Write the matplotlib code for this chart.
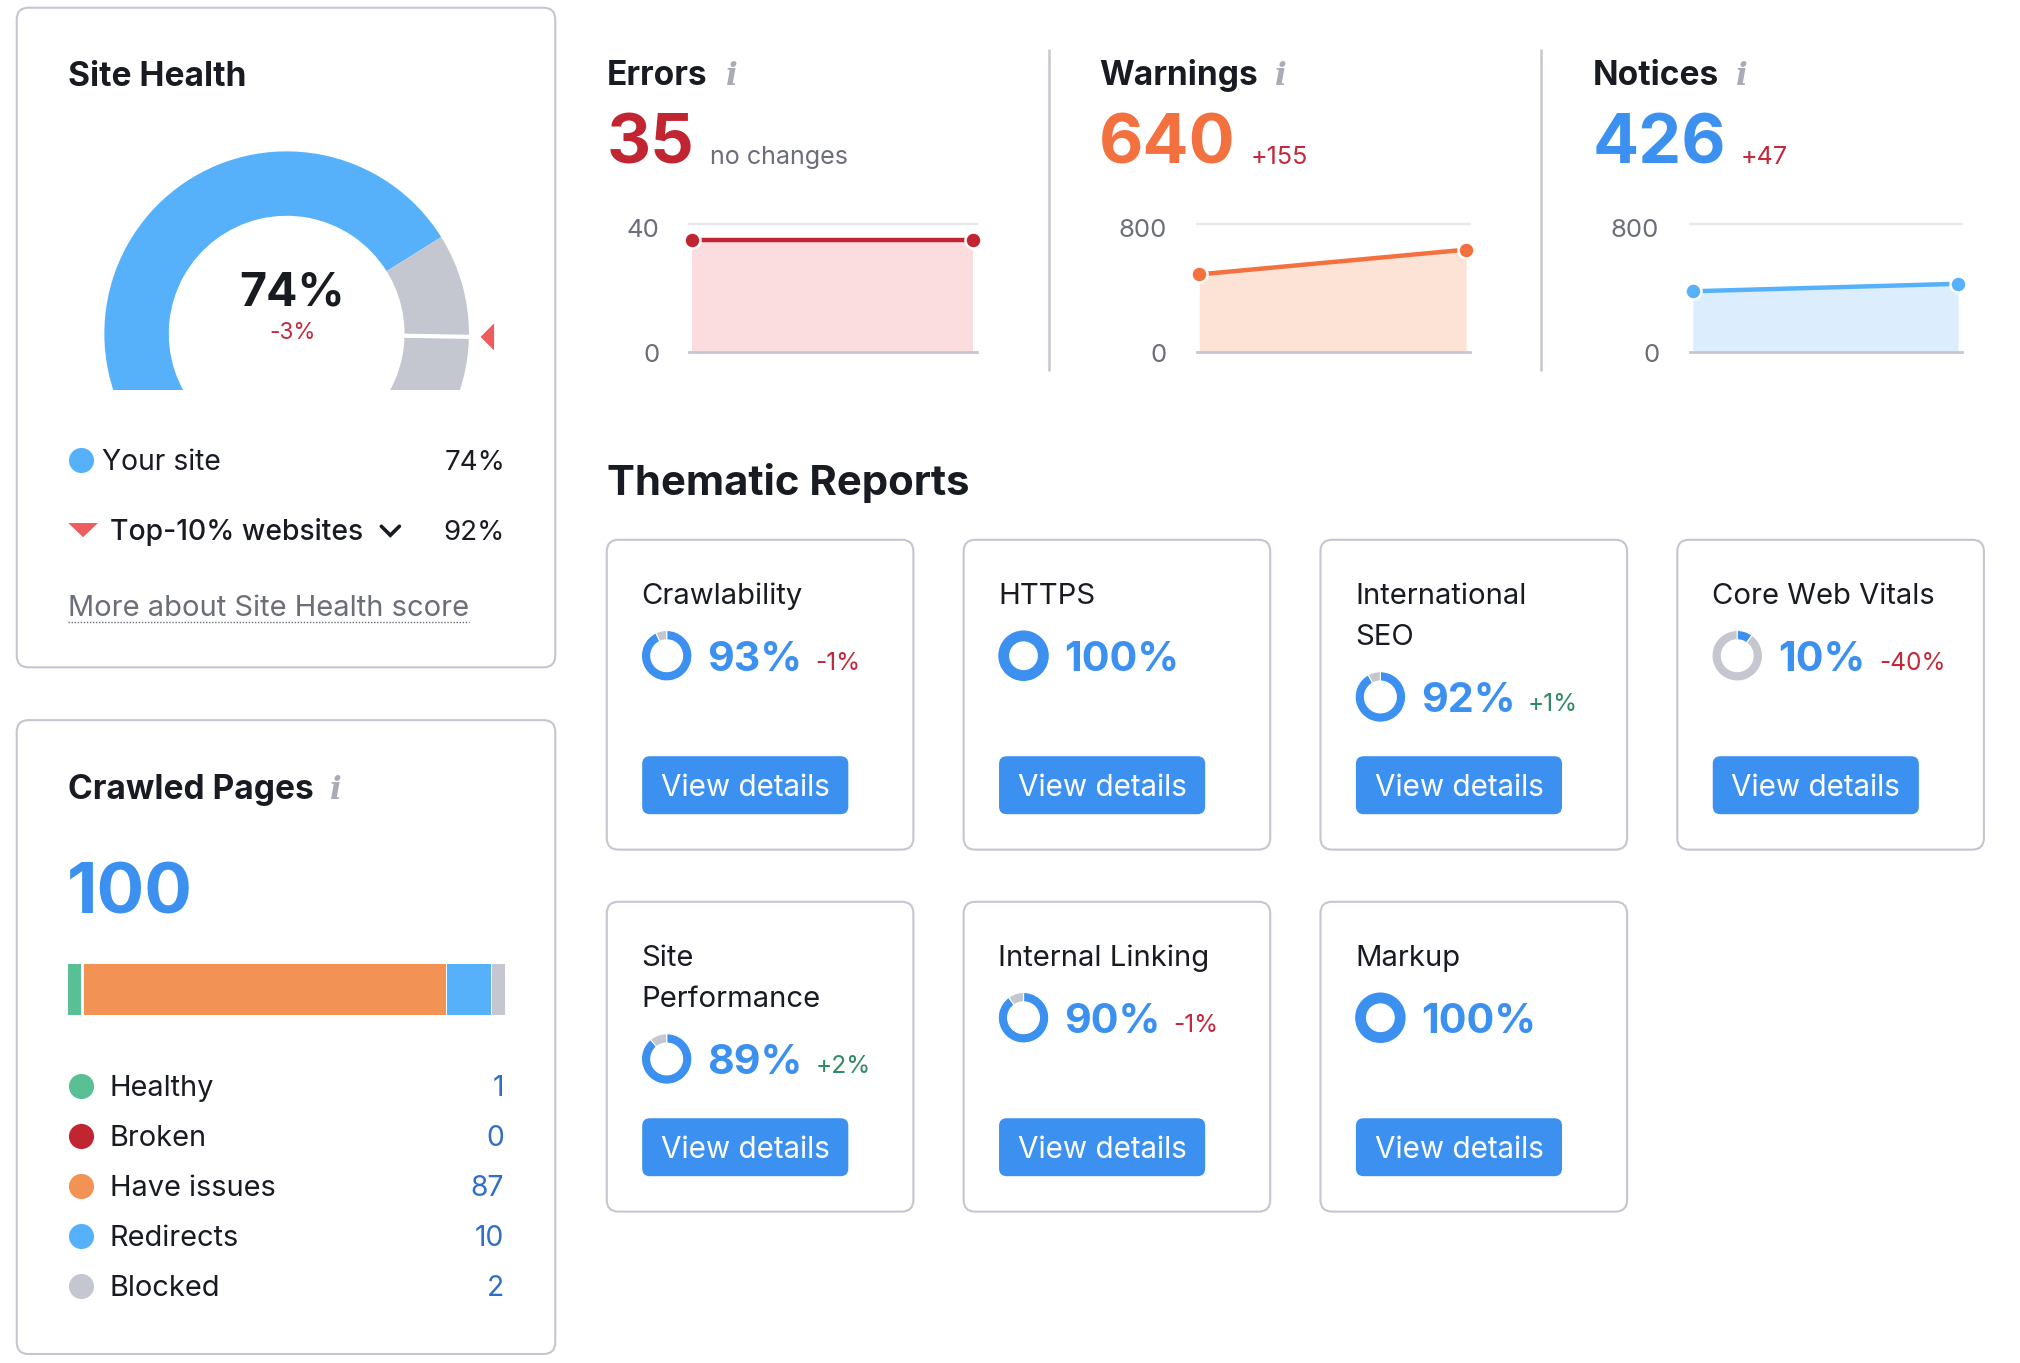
import numpy as np
import matplotlib
matplotlib.use('Agg')
import matplotlib.pyplot as plt
from matplotlib.patches import FancyBboxPatch, Wedge, Polygon
from matplotlib.transforms import ScaledTranslation

plt.rcParams['font.family'] = ['Inter', 'DejaVu Sans']

W, H = 2020, 1363
# layout below is written in 1568x1058 coords
DW, DH = 1568.0, 1058.0
PX = W / DW * 0.72  # one layout px in points at dpi 100

DARK = '#191B23'
GREY = '#6C6E79'
BORDER = '#C4C7CF'
RED = '#C4283A'
GREEN = '#2E8B63'
BLUE = '#3C91F0'
SKY = '#56B1FA'
ORANGE = '#F3703F'
INFO = '#A9ABB6'

fig = plt.figure(figsize=(W / 100, H / 100), dpi=100, facecolor='white')
bg = fig.add_axes([0, 0, 1, 1])
bg.set_xlim(0, DW)
bg.set_ylim(DH, 0)
bg.axis('off')


def sub_axes(x0, y0, x1, y1):
    ax = fig.add_axes([x0 / DW, 1 - y1 / DH, (x1 - x0) / DW, (y1 - y0) / DH])
    ax.patch.set_alpha(0)
    return ax


def txt(x, y, s, size, color=DARK, weight='normal', ha='left', **kw):
    return bg.text(x, y, s, fontsize=size * PX, color=color, fontweight=weight,
                   ha=ha, va='baseline', **kw)


def info(x, y):
    bg.text(x, y, 'i', fontsize=24 * PX, color=INFO, fontweight='bold', style='italic',
            family='DejaVu Serif', ha='center', va='baseline')


def card(x0, y0, x1, y1):
    bg.add_patch(FancyBboxPatch((x0 + 9, y0 + 9), x1 - x0 - 18, y1 - y0 - 18,
                                boxstyle='round,pad=9,rounding_size=9',
                                fc='white', ec=BORDER, lw=1.5))


# ---- Site Health card
card(13, 6, 431, 518)
txt(53, 67, 'Site Health', 26, weight='bold')

gauge = sub_axes(75, 110, 395, 303)
gauge.set_xlim(75 - 222.5, 395 - 222.5)
gauge.set_ylim(259 - 303, 259 - 110)
gauge.axis('off')
# arc edges in degrees
gauge_arcs = [(32, 222, SKY), (-1, 32, BORDER), (-40, -1, BORDER)]
for t0, t1, c in gauge_arcs:
    gauge.add_patch(Wedge((0, 0), 141.5, t0, t1, width=50, fc=c, ec='none'))
top10 = np.radians(-1)
gauge.plot([88 * np.cos(top10), 144 * np.cos(top10)], [88 * np.sin(top10), 144 * np.sin(top10)],
           color='white', lw=3, solid_capstyle='butt')
gauge.add_patch(Polygon([(150.5, -2.5), (161, -13), (161, 8)], closed=True, fc='#EE5C5F', ec='none', clip_on=False))

txt(226.5, 237, '74%', 36, weight='bold', ha='center')
txt(227, 263, '-3%', 17.5, color=RED, ha='center')

bg.plot([62.5], [357], 'o', ms=19.5 * PX, color=SKY, mec='none')
txt(79, 365, 'Your site', 22)
txt(392, 365, '74%', 21.5, ha='right')
bg.add_patch(Polygon([(53, 406), (76, 406), (64.5, 417)], closed=True, fc='#EE5C5F', ec='none'))
txt(85, 419, 'Top-10% websites', 22, weight='medium')
bg.plot([296, 303, 310], [408.5, 415.5, 408.5], color=DARK, lw=2.6, solid_capstyle='round', solid_joinstyle='miter')
txt(392, 419, '92%', 21.5, ha='right')
txt(53, 478, 'More about Site Health score', 22.6, color=GREY)
bg.plot([53, 364], [483, 483], color=GREY, lw=1, ls=(0, (1, 1.2)))

# ---- Crawled Pages card
card(13, 559, 431, 1051)
txt(53, 620, 'Crawled Pages', 26, weight='bold')
info(261, 620)
txt(52, 709, '100', 55, color=BLUE, weight='bold')

# segment widths in the strip are not proportional to the counts
strip = sub_axes(53, 748, 392, 788)
strip.broken_barh([(0, 10), (12, 281), (294, 34), (329, 10)], (0, 1),
                  facecolors=['#59BF95', '#F29255', SKY, BORDER])
strip.set_xlim(0, 339)
strip.set_ylim(0, 1)
strip.axis('off')

pages = [('Healthy', 1, '#59BF95'), ('Broken', 0, '#C22532'), ('Have issues', 87, '#F29255'),
         ('Redirects', 10, SKY), ('Blocked', 2, BORDER)]
for i, (name, n, c) in enumerate(pages):
    y = 843 + i * 38.8
    bg.plot([62.5], [y], 'o', ms=19.5 * PX, color=c, mec='none')
    txt(85, y + 8, name, 22.5)
    txt(391, y + 8, str(n), 22, color='#2F6FC9', ha='right')

# ---- Errors / Warnings / Notices
summary = [
    dict(name='Errors', x=471, info=568, total=35, delta='no changes', dx=551, dc=GREY, c='#C22532', fill='#FBDDE0',
         vals=[35, 35], top=40, ax=(535, 758), px=(537, 755), lab=512),
    dict(name='Warnings', x=853, info=994, total=640, delta='+155', dx=971, dc=RED, c=ORANGE, fill='#FDE2D6',
         vals=[485, 640], top=800, ax=(929, 1141), px=(931, 1138), lab=906),
    dict(name='Notices', x=1236, info=1352, total=426, delta='+47', dx=1351, dc=RED, c=SKY, fill='#DCEEFD',
         vals=[379, 426], top=800, ax=(1312, 1523), px=(1314, 1520), lab=1288),
]
for s in summary:
    txt(s['x'], 66, s['name'], 26, weight='bold')
    info(s['info'], 66)
    txt(s['x'], 127, str(s['total']), 53, color=s['c'] if s['name'] != 'Notices' else BLUE, weight='bold')
    txt(s['dx'], 127, s['delta'], 19.5, color=s['dc'])

    a0, a1 = s['ax']
    p0, p1 = s['px']
    ax = sub_axes(a0, 174, a1, 273)
    span = p1 - p0
    ax.set_xlim((a0 - p0) / span, 1 + (a1 - p1) / span)
    ax.set_ylim(0, s['top'])
    xs = [0, 1]
    ax.fill_between(xs, 0, s['vals'], color=s['fill'], lw=0, zorder=1)
    ax.plot(xs, s['vals'], color=s['c'], lw=3.2, zorder=3, solid_capstyle='butt', clip_on=False)
    ax.plot(xs, s['vals'], 'o', ms=11.5, color=s['c'], mec='white', mew=1.8, zorder=4, clip_on=False)
    ax.set_xticks([])
    ax.set_yticks([0, s['top']])
    ax.tick_params(axis='y', length=0, labelsize=20 * PX, labelcolor=GREY, pad=(a0 - s['lab']) * PX)
    # tick labels sit a little below their gridlines
    for t, off in zip(ax.get_yticklabels(), [1, 3]):
        t.set_transform(t.get_transform() + ScaledTranslation(0, -off * PX / 72, fig.dpi_scale_trans))
    for sp in ax.spines.values():
        sp.set_visible(False)
    ax.axhline(s['top'], color='#E6E7EB', lw=1.6, clip_on=False, zorder=0)
    ax.axhline(0, color=BORDER, lw=2, clip_on=False, zorder=2)

for x in (814, 1196):
    bg.plot([x, x], [38, 288], color=BORDER, lw=1.8, solid_capstyle='butt')

# ---- Thematic Reports
txt(471, 384, 'Thematic Reports', 32.5, weight='bold')

reports = [
    (471, 419, 'Crawlability', 93, '-1%', 162),
    (748, 419, 'HTTPS', 100, None, 0),
    (1025, 419, 'International\nSEO', 92, '+1%', 161),
    (1302, 419, 'Core Web Vitals', 10, '-40%', 157),
    (471, 700, 'Site\nPerformance', 89, '+2%', 162),
    (748, 700, 'Internal Linking', 90, '-1%', 163),
    (1025, 700, 'Markup', 100, None, 0),
]
for x, y, name, pct, delta, dx in reports:
    card(x, y, x + 238, y + 240.5)
    lines = name.split('\n')
    for k, line in enumerate(lines):
        txt(x + 27, y + 50 + k * 32, line, 22.7)
    cy = y + 90 + (len(lines) - 1) * 32

    d = sub_axes(x + 26.5, cy - 20, x + 66.5, cy + 20)
    if pct == 100:
        d.pie([100], colors=[BLUE], radius=1, startangle=90, wedgeprops=dict(width=0.43))
    else:
        d.pie([pct, 100 - pct], colors=[BLUE, BORDER], radius=1, startangle=90, counterclock=False,
              wedgeprops=dict(width=0.37, ec='white', lw=0.8))
    d.set_xlim(-1.02, 1.02)
    d.set_ylim(-1.02, 1.02)

    txt(x + 78, cy + 12, '%d%%' % pct, 32, color=BLUE, weight='bold')
    if delta:
        c = GREEN if delta.startswith('+') else RED
        txt(x + dx, cy + 11, delta, 19, color=c)

    by = y + 168
    bg.add_patch(FancyBboxPatch((x + 33.5, by + 6), 148, 33, boxstyle='round,pad=6,rounding_size=6',
                                fc=BLUE, ec='none'))
    txt(x + 107.5, by + 30.5, 'View details', 23, color='white', ha='center')

fig.savefig('out.png', dpi=100)
